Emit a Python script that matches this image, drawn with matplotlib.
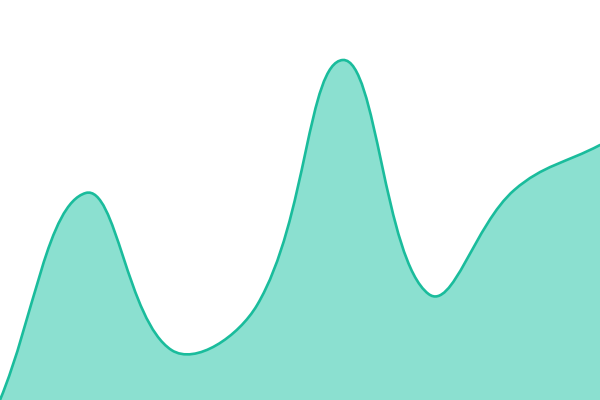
import numpy as np
import matplotlib
matplotlib.use("Agg")
import matplotlib.pyplot as plt
from matplotlib.path import Path
from matplotlib.patches import PathPatch

# values (pixel height above the bottom edge)
xs = [0, 1, 2, 3, 4, 5, 6, 7]
values = [0, 207, 50, 95, 340, 106, 210, 255]

line_color = '#1abc9c'
fill_color = '#8be0d0'
tension = 0.4


def spline_path(pts, t):
    # chart-style spline: control points scaled by the distances in pixels
    pts = np.asarray(pts, float)
    n = len(pts)
    verts = [tuple(pts[0])]
    codes = [Path.MOVETO]
    prev_ctrl = []
    next_ctrl = []
    for i in range(n):
        p0 = pts[i - 1] if i > 0 else pts[i]
        p1 = pts[i]
        p2 = pts[i + 1] if i < n - 1 else pts[i]
        d01 = np.hypot(*(p1 - p0))
        d12 = np.hypot(*(p2 - p1))
        s01 = d01 / (d01 + d12) if d01 + d12 else 0
        s12 = d12 / (d01 + d12) if d01 + d12 else 0
        prev_ctrl.append(p1 - t * s01 * (p2 - p0))
        next_ctrl.append(p1 + t * s12 * (p2 - p0))
    for i in range(n - 1):
        verts += [tuple(next_ctrl[i]), tuple(prev_ctrl[i + 1]), tuple(pts[i + 1])]
        codes += [Path.CURVE4] * 3
    return verts, codes


fig = plt.figure(figsize=(6, 4), dpi=100)
ax = fig.add_axes([0, 0, 1, 1])
ax.set_xlim(xs[0], xs[-1])
ax.set_ylim(0, 400)
ax.axis('off')

# work out the curve in screen pixels, then bring it back to data units
pix = ax.transData.transform(np.column_stack([xs, values]))
verts, codes = spline_path(pix, tension)
verts = [tuple(v) for v in ax.transData.inverted().transform(verts)]

# filled area under the curve
fill_verts = verts + [(xs[-1], 0), (xs[0], 0), verts[0]]
fill_codes = codes + [Path.LINETO, Path.LINETO, Path.CLOSEPOLY]
ax.add_patch(PathPatch(Path(fill_verts, fill_codes), facecolor=fill_color,
                       edgecolor='none'))
ax.add_patch(PathPatch(Path(verts, codes), facecolor='none',
                       edgecolor=line_color, linewidth=1.9, capstyle='round'))

fig.savefig("out.png", dpi=100)
